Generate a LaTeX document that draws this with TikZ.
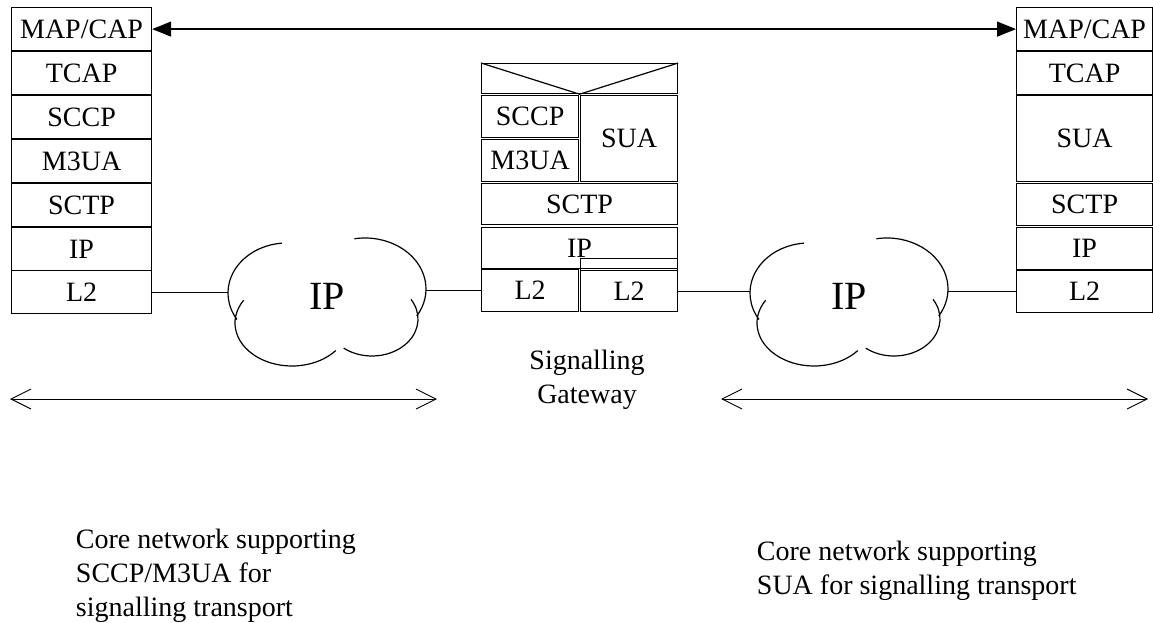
\documentclass[tikz,border=0pt]{standalone}
\usepackage{fontspec}
\setmainfont{Liberation Serif}
\usetikzlibrary{arrows.meta}

\begin{document}
\begin{tikzpicture}[x=1pt,y=-1pt,line width=1.2pt,
    font=\fontsize{28}{34}\selectfont,
    layer/.style={draw,anchor=north west,inner sep=0pt,minimum height=43pt},
    lbox/.style={layer,minimum width=140pt},
    rbox/.style={layer,minimum width=136pt},
    half/.style={layer,minimum width=97pt,minimum height=42pt},
    full/.style={layer,minimum width=196pt,minimum height=41pt},
    net/.style={inner sep=0pt,minimum width=197pt,minimum height=127pt,
      font=\fontsize{40}{48}\selectfont},
    span/.style={line width=0.9pt,{Straight Barb[length=20pt,width=20pt]}-{Straight Barb[length=20pt,width=20pt]}}]
  \useasboundingbox (0,0) rectangle (1153,623);

  % left stack
  \node[lbox] (lmap) at (11,7) {MAP/CAP};
  \node[lbox] (ltcap) at (11,51) {TCAP};
  \node[lbox] (lsccp) at (11,95) {SCCP};
  \node[lbox] (lm3ua) at (11,139) {M3UA};
  \node[lbox] (lsctp) at (11,183) {SCTP};
  \node[lbox] (lip) at (11,227) {IP};
  \node[lbox] (ll2) at (11,270) {L2};

  % gateway
  \node[layer,minimum width=196pt,minimum height=30pt] (mtop) at (481,63) {};
  \draw (mtop.north west) -- (mtop.south) -- (mtop.north east);
  \node[half] (msccp) at (481,95) {SCCP};
  \node[half] (mm3ua) at (481,139) {M3UA};
  \node[layer,minimum width=97pt,minimum height=86pt] (msua) at (580,95) {SUA};
  \node[full] (msctp) at (481,183) {SCTP};
  \node[full] (mip) at (481,227) {IP};
  \node[layer,minimum width=97pt,minimum height=12pt] (mpad) at (580,258) {};
  \node[half] (ml2a) at (481,269) {L2};
  \node[half,minimum height=41pt] (ml2b) at (580,270) {L2};
  \node[align=center,anchor=north] (gw) at (587,346) {Signalling\\Gateway};

  % right stack
  \node[rbox] (rmap) at (1016,7) {MAP/CAP};
  \node[rbox] (rtcap) at (1016,51) {TCAP};
  \node[rbox,minimum height=86pt] (rsua) at (1016,95) {SUA};
  \node[rbox,minimum height=42pt] (rsctp) at (1016,183) {SCTP};
  \node[rbox,minimum height=42pt] (rip) at (1016,227) {IP};
  \node[rbox,minimum height=42pt] (rl2) at (1016,270) {L2};

  % IP clouds
  \node[net] (net1) at (327,296) {IP};
  \node[net] (net2) at (849,296) {IP};
  \foreach \n in {net1,net2} {
    \begin{scope}[shift={(\n.center)}]
      \draw (-40,-3) ++(265:59 and 50) arc[start angle=265,end angle=148,x radius=59,y radius=50];
      \draw (-35,27) ++(212:57 and 43) arc[start angle=212,end angle=40,x radius=57,y radius=43];
      \draw (45,23) ++(128:46 and 37) arc[start angle=128,end angle=-32,x radius=46,y radius=37];
      \draw (38,-7) ++(260:61 and 51) arc[start angle=260,end angle=392,x radius=61,y radius=51];
    \end{scope}
  }

  \draw (ll2.east) -- (ll2.east -| net1.west);
  \draw (net1.east |- ml2a.west) -- (ml2a.west);
  \draw (ml2b.east) -- (ml2b.east -| net2.west);
  \draw (net2.east |- rl2.west) -- (rl2.west);

  % MAP/CAP peers
  \draw[{Triangle[length=19pt,width=15pt]}-{Triangle[length=19pt,width=15pt]}] (lmap.east) -- (rmap.west);

  % core network spans
  \coordinate (la) at (10,399);
  \coordinate (lb) at (437,399);
  \coordinate (ra) at (721,399);
  \coordinate (rb) at (1148,399);
  \draw[span] (la) -- (lb);
  \draw[span] (ra) -- (rb);

  \node[align=left,anchor=north west] (lnote) at (72,525) {Core network supporting\\SCCP/M3UA for\\signalling transport};
  \node[align=left,anchor=north west] (rnote) at (753,537) {Core network supporting\\SUA for signalling transport};
\end{tikzpicture}
\end{document}
